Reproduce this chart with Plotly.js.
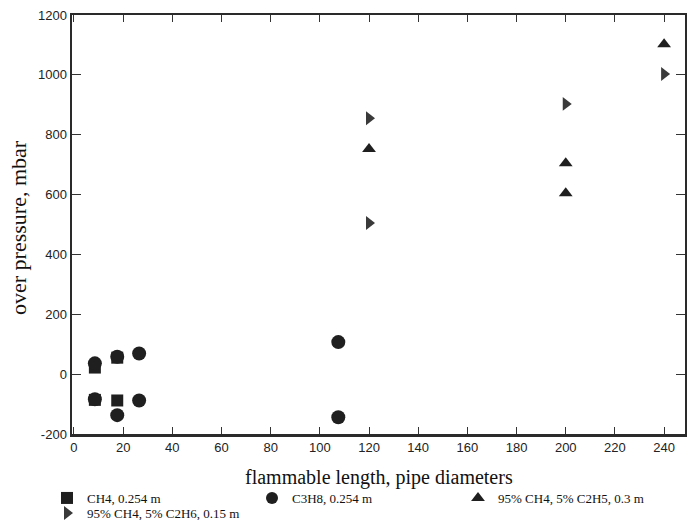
<!DOCTYPE html>
<html>
<head>
<meta charset="utf-8">
<script src="https://cdn.plot.ly/plotly-3.0.1.min.js"></script>
<style>html,body{margin:0;padding:0;background:#fff;}#chart{width:687px;height:520px;}</style>
</head>
<body>
<div id="chart"></div>
<script>
// Data
const seriesNames = ["CH4, 0.254 m", "C3H8, 0.254 m", "95% CH4, 5% C2H5, 0.3 m", "95% CH4, 5% C2H6, 0.15 m"];

const ch4X = [8.5, 17.6, 8.5, 17.6];
const ch4Y = [22, 55, -86, -88];

const c3h8X = [8.5, 17.6, 26.5, 8.5, 17.6, 26.5, 107.5, 107.5];
const c3h8Y = [36, 58, 69, -84, -137, -88, 107, -144];

const triUpX = [120, 200, 200, 240];
const triUpY = [752, 705, 604, 1102];

const triRightX = [120, 120, 200, 240];
const triRightY = [855, 505, 903, 1003];

const xTicks = [0, 20, 40, 60, 80, 100, 120, 140, 160, 180, 200, 220, 240];
const xTickText = ["0", "20", "40", "60", "80", "100", "120", "140", "160", "180", "200", "220", "240"];
const yTicks = [-200, 0, 200, 400, 600, 800, 1000, 1200];
const yTickText = ["-200", "0", "200", "400", "600", "800", "1000", "1200"];

const xTitle = "flammable length, pipe diameters";
const yTitle = "over pressure, mbar";

const dark = "#1f1f1f";
const traces = [
  {x: ch4X, y: ch4Y, name: seriesNames[0], type: "scatter", mode: "markers", legend: "legend",
   marker: {symbol: "square", size: 12, color: dark}},
  {x: c3h8X, y: c3h8Y, name: seriesNames[1], type: "scatter", mode: "markers", legend: "legend2",
   marker: {symbol: "circle", size: 14, color: dark}},
  {x: triUpX, y: triUpY, name: seriesNames[2], type: "scatter", mode: "markers", legend: "legend3",
   marker: {symbol: "triangle-up", size: 12, color: dark}},
  {x: triRightX, y: triRightY, name: seriesNames[3], type: "scatter", mode: "markers", legend: "legend4",
   marker: {symbol: "triangle-right", size: 12, color: "#3a3a3a"}}
];

const serif = "Liberation Serif, Times New Roman, serif";
const legendFont = {family: serif, size: 13, color: "#111"};
const legendCommon = {orientation: "v", xref: "container", yref: "container", yanchor: "top", xanchor: "left",
  font: legendFont, bgcolor: "rgba(0,0,0,0)", borderwidth: 0, tracegroupgap: 0, itemsizing: "constant", itemwidth: 30};

const layout = {
  width: 687, height: 520,
  margin: {l: 72, r: 2, t: 15, b: 86, autoexpand: false},
  paper_bgcolor: "#fff", plot_bgcolor: "#fff",
  showlegend: true,
  font: {family: "Liberation Sans, Arial, sans-serif", color: "#222"},
  xaxis: {
    range: [-0.8, 248.5], tickvals: xTicks, ticktext: xTickText,
    ticks: "inside", ticklen: 7, tickwidth: 1, tickcolor: "#333",
    showline: true, linecolor: "#2a2a2a", linewidth: 2.5, mirror: "ticks",
    showgrid: false, zeroline: false,
    tickfont: {family: "Liberation Sans, Arial, sans-serif", size: 13, color: "#222"}
  },
  yaxis: {
    range: [-200, 1200], tickvals: yTicks, ticktext: yTickText,
    ticks: "inside", ticklen: 9, tickwidth: 1, tickcolor: "#333",
    showline: true, linecolor: "#2a2a2a", linewidth: 2.5, mirror: "ticks",
    showgrid: false, zeroline: false,
    tickfont: {family: "Liberation Sans, Arial, sans-serif", size: 13, color: "#222"}
  },
  annotations: [
    {text: xTitle, xref: "paper", yref: "paper", x: 0.5, y: (434 - 477) / 419,
     xanchor: "center", yanchor: "middle", showarrow: false,
     font: {family: serif, size: 20, color: "#111"}},
    {text: yTitle, xref: "paper", yref: "paper", x: (18 - 72) / 613, y: (434 - 228) / 419, textangle: -90,
     xanchor: "center", yanchor: "middle", showarrow: false,
     font: {family: serif, size: 22, color: "#111"}}
  ],
  legend: Object.assign({}, legendCommon, {x: 47 / 687, y: 1 - 483 / 520}),
  legend2: Object.assign({}, legendCommon, {x: 252 / 687, y: 1 - 483 / 520}),
  legend3: Object.assign({}, legendCommon, {x: 458 / 687, y: 1 - 483 / 520}),
  legend4: Object.assign({}, legendCommon, {x: 47 / 687, y: 1 - 498 / 520})
};

Plotly.newPlot("chart", traces, layout, {displayModeBar: false, staticPlot: true});
</script>
</body>
</html>
